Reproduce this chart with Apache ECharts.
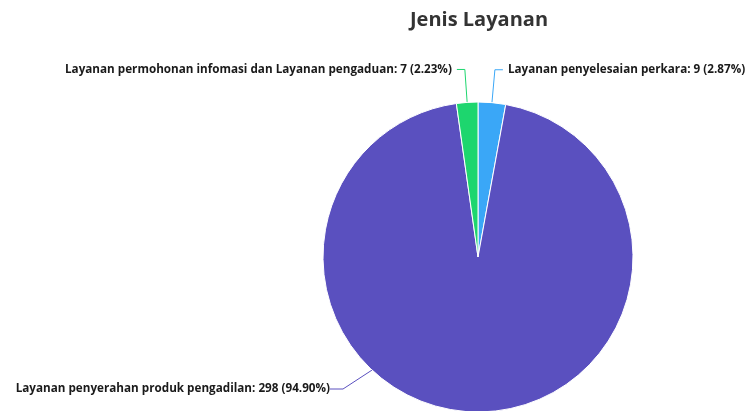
<!DOCTYPE html>
<html>
<head>
<meta charset="utf-8">
<script src="https://cdn.jsdelivr.net/npm/echarts@6/dist/echarts.min.js"></script>
<style>
  html, body { margin: 0; padding: 0; background: #fff; }
  #chart { width: 748px; height: 411px; }
</style>
</head>
<body>
<div id="chart"></div>
<script>
// data
const categories = [
  'Layanan penyelesaian perkara',
  'Layanan penyerahan produk pengadilan',
  'Layanan permohonan infomasi dan Layanan pengaduan'
];
const values = [9, 298, 7];
const colors = ['#3aa7f7', '#5a50bf', '#1dd66e'];

const total = values.reduce((a, b) => a + b, 0);
const fmt = p => p.name + ': ' + p.value + ' (' + (p.value / total * 100).toFixed(2) + '%)';

const labelText = {
  formatter: fmt,
  fontFamily: 'Open Sans',
  fontSize: 11.7,
  fontWeight: 'bold',
  color: '#1a1a1a',
  overflow: 'none'
};

const chart = echarts.init(document.getElementById('chart'));
chart.setOption({
  animation: false,
  title: {
    text: 'Jenis Layanan',
    left: 405,
    top: 5,
    textStyle: {
      fontFamily: 'Open Sans',
      fontSize: 20,
      fontWeight: 'bold',
      color: '#333'
    }
  },
  series: [{
    type: 'pie',
    center: [478, 257],
    radius: 155,
    startAngle: 90,
    clockwise: true,
    data: categories.map((c, i) => ({
      name: c,
      value: values[i],
      itemStyle: { color: colors[i] },
      // big slice gets its label from the helper series below
      label: { show: i !== 1 },
      labelLine: { show: i !== 1 }
    })),
    itemStyle: { borderColor: '#fff', borderWidth: 1 },
    label: labelText,
    labelLine: {
      length: 33,
      length2: 8,
      lineStyle: { width: 1 }
    }
  }, {
    // invisible copy, turned so the big slice's label sits lower left like the original
    type: 'pie',
    silent: true,
    z: 1,
    center: [478, 257],
    radius: 155,
    startAngle: 48,
    clockwise: true,
    emphasis: { disabled: true },
    data: categories.map((c, i) => ({
      name: c,
      value: values[i],
      itemStyle: { color: 'rgba(0,0,0,0)' },
      label: { show: i === 1 },
      labelLine: { show: i === 1, lineStyle: { color: colors[i] } }
    })),
    label: labelText,
    labelLine: {
      length: 25,
      length2: 13,
      lineStyle: { width: 1 }
    },
    labelLayout: p => p.dataIndex === 1
      ? { x: 330, y: 389, align: 'right', verticalAlign: 'middle' }
      : {}
  }]
});
</script>
</body>
</html>
